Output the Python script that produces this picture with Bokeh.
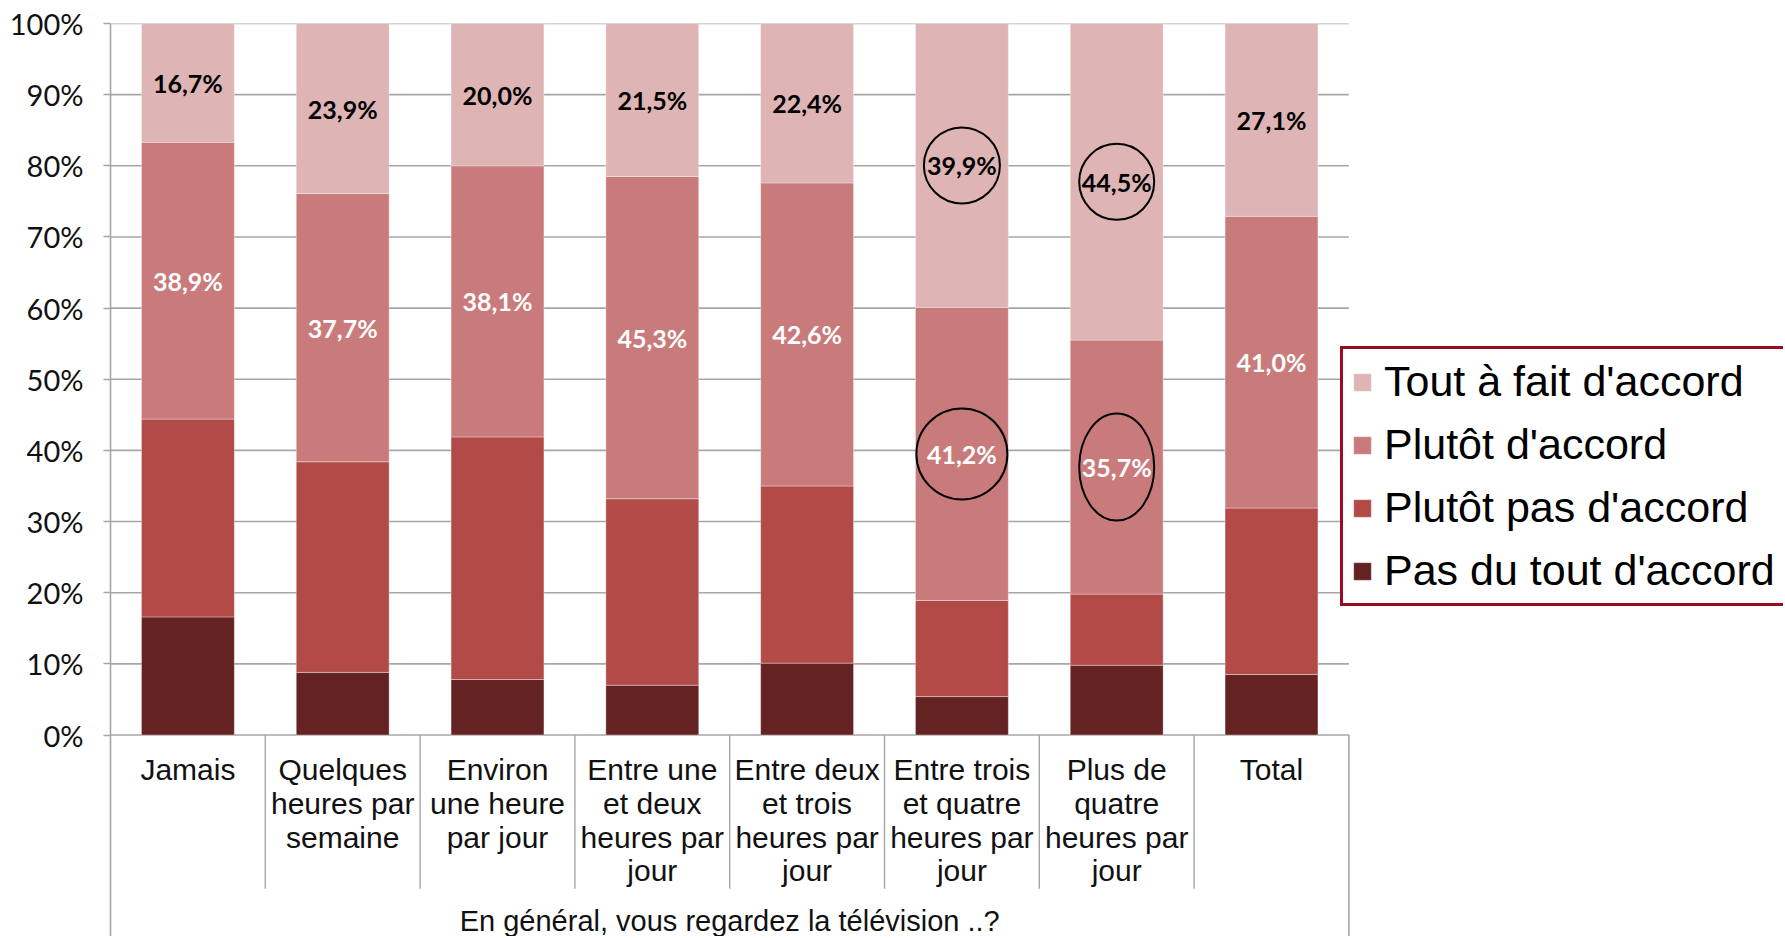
from bokeh.plotting import figure
from bokeh.models import Range1d, FixedTicker, ColumnDataSource, Legend, LegendItem
from bokeh.core.properties import value
from bokeh.embed import file_html
from bokeh.resources import INLINE

# ---------------- data ----------------
categories = [
    "Jamais",
    "Quelques\nheures par\nsemaine",
    "Environ\nune heure\npar jour",
    "Entre une\net deux\nheures par\njour",
    "Entre deux\net trois\nheures par\njour",
    "Entre trois\net quatre\nheures par\njour",
    "Plus de\nquatre\nheures par\njour",
    "Total",
]
series_names = ["Pas du tout d'accord", "Plutôt pas d'accord", "Plutôt d'accord", "Tout à fait d'accord"]
pas_du_tout = [16.6, 8.8, 7.8, 7.0, 10.1, 5.4, 9.8, 8.5]
plutot_pas = [27.8, 29.6, 34.1, 26.2, 24.9, 13.5, 10.0, 23.4]
plutot = [38.9, 37.7, 38.1, 45.3, 42.6, 41.2, 35.7, 41.0]
tout_a_fait = [16.7, 23.9, 20.0, 21.5, 22.4, 39.9, 44.5, 27.1]
y_ticks = [0, 10, 20, 30, 40, 50, 60, 70, 80, 90, 100]
axis_title = "En général, vous regardez la télévision ..?"
# highlighted (category index, series index) labels circled in the chart
highlighted = [(5, 3), (5, 2), (6, 3), (6, 2)]

# ---------------- styles ----------------
colors = ["#642222", "#B24A48", "#C97B7B", "#DEB4B4"]
label_colors = [None, None, "#FFFFFF", "#000000"]
grid_color = "#A6A6A6"
ellipse_sizes = [(76, 76), (91, 91), (75, 76), (75, 107)]

n = len(categories)
W, H = 1783, 936
left_b, top_b = 110, 23
px_per_cat = 154.8
px_per_pct = 7.115
frame_w = W - left_b
frame_h = H - top_b
x_end = frame_w / px_per_cat
y_end = 100
y_start = y_end - frame_h / px_per_pct

p = figure(width=W, height=H, output_backend="svg", toolbar_location=None,
           x_range=Range1d(0, x_end), y_range=Range1d(y_start, y_end),
           x_axis_type=None, tools="")
p.min_border_left = left_b
p.min_border_right = 0
p.min_border_top = top_b
p.min_border_bottom = 0
p.outline_line_color = None
p.ygrid.visible = False
p.background_fill_color = "white"
p.border_fill_color = "white"

# gridlines (behind bars)
p.segment(x0=[0] * len(y_ticks), y0=y_ticks, x1=[n] * len(y_ticks), y1=y_ticks,
          line_color=grid_color, line_width=1.6)

# category separators below axis
sep_x = list(range(1, n))
p.segment(x0=sep_x, y0=[0] * len(sep_x), x1=sep_x, y1=[-21.6] * len(sep_x),
          line_color=grid_color, line_width=1.4)
p.segment(x0=[n], y0=[0], x1=[n], y1=[y_start], line_color=grid_color, line_width=1.6)

# stacked bars
xs = [i + 0.5 for i in range(n)]
keys = ["s0", "s1", "s2", "s3"]
src = ColumnDataSource(dict(x=xs, s0=pas_du_tout, s1=plutot_pas, s2=plutot, s3=tout_a_fait))
renderers = p.vbar_stack(keys, x="x", width=0.6, source=src, fill_color=colors,
                         line_color="#FFFFFF", line_alpha=0.35, line_width=1)

# data labels
all_series = [pas_du_tout, plutot_pas, plutot, tout_a_fait]
for si in (2, 3):
    lx, ly, lt = [], [], []
    for ci in range(n):
        base = sum(all_series[k][ci] for k in range(si))
        lx.append(xs[ci])
        ly.append(base + all_series[si][ci] / 2)
        lt.append(f"{all_series[si][ci]:.1f}%".replace(".", ","))
    p.text(x=lx, y=ly, text=lt, text_font=value("Lato"), text_font_style="bold",
           text_font_size="25px", text_color=label_colors[si],
           text_align="center", text_baseline="middle")

# circles around highlighted labels
for (ci, si), (w, h) in zip(highlighted, ellipse_sizes):
    base = sum(all_series[k][ci] for k in range(si))
    p.ellipse(x=[xs[ci]], y=[base + all_series[si][ci] / 2], width=w, height=h,
              width_units="screen", height_units="screen",
              fill_color=None, line_color="#000000", line_width=2)

# category labels
p.text(x=xs, y=[-2.6] * n, text=categories, text_font=value("Liberation Sans"),
       text_font_size="30px", text_color="#111111", text_align="center",
       text_baseline="top", text_line_height=1.02)

# axis title
p.text(x=[n / 2], y=[-26.1], text=[axis_title], text_font=value("Liberation Sans"),
       text_font_size="29px", text_color="#111111", text_align="center",
       text_baseline="middle")

# y axis
ax = p.yaxis[0]
ax.ticker = FixedTicker(ticks=y_ticks)
ax.major_label_overrides = {t: f"{t}%" for t in y_ticks}
ax.major_label_text_font = "Lato"
ax.major_label_text_font_size = "29px"
ax.major_label_text_color = "#111111"
ax.major_label_standoff = 20
ax.major_tick_out = 7
ax.major_tick_in = 0
ax.minor_tick_line_color = None
ax.major_tick_line_color = grid_color
ax.major_tick_line_width = 1.6
ax.axis_line_color = grid_color
ax.axis_line_width = 1.6

# legend
items = [LegendItem(label=series_names[k], renderers=[renderers[k]]) for k in (3, 2, 1, 0)]
legend = Legend(items=items, location=(1230, 330), orientation="vertical",
                label_text_font="Liberation Sans", label_text_font_size="43px",
                label_text_color="#000000", glyph_width=22, glyph_height=22,
                label_standoff=11, label_height=42, spacing=14, padding=8, margin=0,
                border_line_color="#9B0A23", border_line_width=3.5, border_line_alpha=1,
                background_fill_color="white", background_fill_alpha=1)
p.add_layout(legend, "center")

open("out.html", "w").write(file_html(p, INLINE))
